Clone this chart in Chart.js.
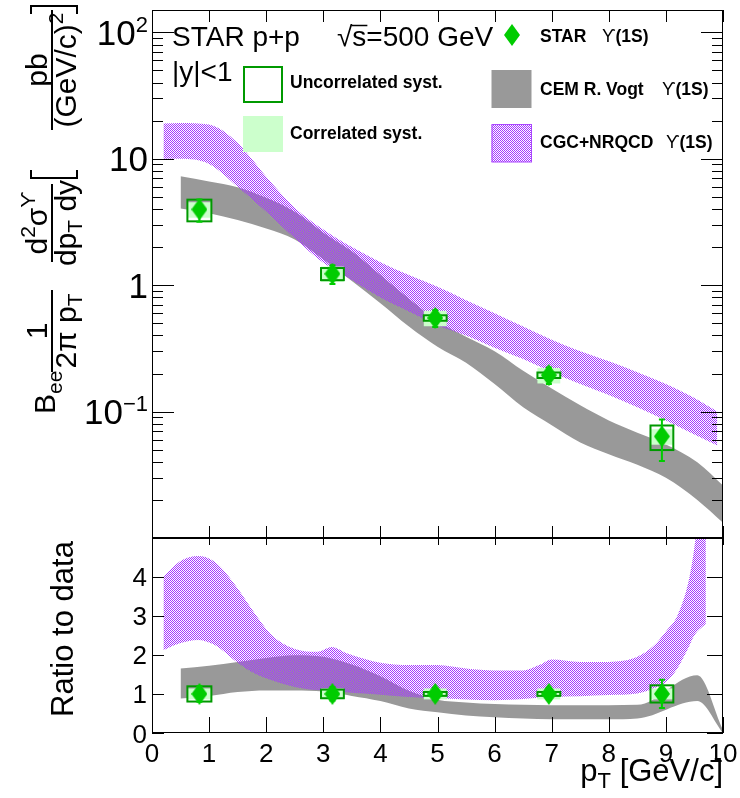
<!DOCTYPE html>
<html>
<head>
<meta charset="utf-8">
<title>Upsilon(1S) cross section, STAR p+p 500 GeV</title>
<script src="https://cdn.jsdelivr.net/npm/chart.js@4.4.1/dist/chart.umd.min.js"></script>
<style>
  html, body { margin: 0; padding: 0; background: #fff; }
  #wrap { position: relative; width: 740px; height: 798px; }
  #wrap canvas { position: absolute; left: 0; top: 0; }
</style>
</head>
<body>
<div id="wrap">
  <canvas id="xsec" width="740" height="798"></canvas>
  <canvas id="ratio" width="740" height="798"></canvas>
</div>
<script>
// STAR points
const starPt = [0.83, 3.16, 4.96, 6.95, 8.93];
const starXsec = [3.97, 1.23, 0.55, 0.194, 0.0636];
const starRatio = [1, 1, 1, 1, 1];
const starBinHalf = [0.21, 0.2, 0.2, 0.2, 0.2];
const starStatRel = [0.2, 0.17, 0.15, 0.15, 0.36];
const starUncorrRel = [0.195, 0.11, 0.05, 0.05, 0.22];
const starCorrRel = [0.14, 0.14, 0.14, 0.14, 0.14];

// CEM (R. Vogt) band
const cemPt   = [0.5, 1.0, 1.5, 2.0, 2.5, 3.0, 3.5, 4.0, 4.5, 5.0, 5.5, 6.0, 6.5, 7.0, 7.5, 8.0, 8.5, 9.0, 9.55, 10.0];
const cemLow  = [4.04, 3.7, 3.27, 2.8, 2.3, 1.6, 1.08, 0.72, 0.47, 0.325, 0.243, 0.165, 0.108, 0.078, 0.057, 0.046, 0.038, 0.03, 0.02, 0.0132];
const cemHigh = [7.26, 6.6, 5.95, 4.9, 3.8, 2.6, 1.85, 1.2, 0.78, 0.52, 0.39, 0.3, 0.21, 0.152, 0.112, 0.085, 0.068, 0.055, 0.0397, 0.026];

// CGC+NRQCD band
const cgcPt   = [0.2, 0.5, 1.0, 1.5, 2.0, 2.5, 3.0, 3.5, 4.0, 4.5, 5.0, 5.5, 6.0, 6.5, 7.0, 7.5, 8.0, 8.5, 9.0, 9.5, 9.9];
const cgcHigh = [19, 19.2, 18.6, 13.3, 7.2, 4.1, 2.75, 2.0, 1.52, 1.2, 0.97, 0.76, 0.6, 0.47, 0.37, 0.3, 0.25, 0.205, 0.165, 0.128, 0.1];
const cgcLow  = [10, 10, 9.1, 6.0, 3.8, 2.35, 1.5, 1.1, 0.8, 0.62, 0.48, 0.4, 0.32, 0.26, 0.205, 0.165, 0.135, 0.108, 0.085, 0.066, 0.054];

// ratio to data
const cemRatioPt   = [0.5, 1.0, 1.5, 2.0, 2.5, 3.0, 3.5, 4.0, 4.5, 5.0, 5.5, 6.0, 6.5, 7.0, 7.5, 8.0, 8.5, 9.55, 10.0];
const cemRatioHigh = [1.65, 1.72, 1.82, 1.92, 1.99, 1.95, 1.75, 1.45, 1.08, 0.85, 0.78, 0.74, 0.72, 0.71, 0.71, 0.71, 0.72, 1.48, 0.08];
const cemRatioLow  = [0.88, 0.95, 1.05, 1.09, 1.09, 1.06, 0.95, 0.82, 0.63, 0.53, 0.45, 0.4, 0.37, 0.35, 0.35, 0.35, 0.37, 0.82, 0.0];

const cgcRatioPt   = [0.2, 0.5, 0.8, 1.1, 1.5, 1.8, 2.1, 2.5, 2.9, 3.15, 3.4, 4.0, 4.5, 5.0, 5.5, 6.0, 6.5, 6.8, 7.0, 7.5, 8.0, 8.5, 8.8, 9.0, 9.2, 9.4, 9.5, 9.7];
const cgcRatioHigh = [4.0, 4.4, 4.53, 4.38, 3.7, 3.06, 2.5, 2.15, 2.08, 2.2, 2.05, 1.8, 1.74, 1.74, 1.65, 1.6, 1.6, 1.75, 1.88, 1.82, 1.82, 1.95, 2.25, 2.6, 3.0, 3.9, 4.77, 7.5];
const cgcRatioLow  = [2.12, 2.3, 2.38, 2.25, 1.8, 1.52, 1.35, 1.18, 1.1, 1.09, 1.04, 0.98, 0.92, 0.89, 0.86, 0.84, 0.87, 0.9, 0.92, 0.94, 0.97, 1.01, 1.15, 1.3, 1.65, 2.2, 2.5, 2.8];

// axes
const xTicks = [0, 1, 2, 3, 4, 5, 6, 7, 8, 9, 10];
const ratioTicks = [0, 1, 2, 3, 4];
const logTickValues = [0.1, 1, 10, 100];
const logTickBase = ['10', '1', '10', '10'];
const logTickExp = ['\u22121', '', '', '2'];

const FONT = '"Liberation Sans", "DejaVu Sans", Arial, sans-serif';
const GREEN = '#00cc00', BOX_GREEN = '#009900', LIGHT_GREEN = '#ccffcc', GREY = '#999999';

function font(size, bold) { return (bold ? 'bold ' : '') + size + 'px ' + FONT; }

// pieces: [text, size, dy, bold]
function runWidth(ctx, pieces) {
  let w = 0;
  for (const p of pieces) { ctx.font = font(p[1], p[3]); w += ctx.measureText(p[0]).width; }
  return w;
}
function drawRun(ctx, pieces, x, y) {
  for (const p of pieces) {
    ctx.font = font(p[1], p[3]);
    ctx.fillText(p[0], x, y + p[2]);
    x += ctx.measureText(p[0]).width;
  }
  return x;
}

function diamondMarker(w, h, color) {
  const c = document.createElement('canvas');
  c.width = w; c.height = h;
  const g = c.getContext('2d');
  g.fillStyle = color;
  g.beginPath();
  g.moveTo(w / 2, 0); g.lineTo(w, h / 2); g.lineTo(w / 2, h); g.lineTo(0, h / 2);
  g.closePath(); g.fill();
  return c;
}

function purplePattern() {
  const c = document.createElement('canvas');
  c.width = 2; c.height = 2;
  const g = c.getContext('2d');
  g.fillStyle = 'rgb(165,55,255)';
  g.fillRect(0, 0, 1, 1);
  g.fillRect(1, 1, 1, 1);
  return g.createPattern(c, 'repeat');
}

const diamond = diamondMarker(16, 22, GREEN);
const purple = purplePattern();

function edge(xs, ys) { return xs.map((x, i) => ({ x, y: ys[i] })); }

const edgeStyle = {
  showLine: true, borderWidth: 0, borderColor: 'rgba(0,0,0,0)',
  pointRadius: 0, cubicInterpolationMode: 'monotone'
};

function starDataset(values) {
  return {
    data: edge(starPt, values), showLine: false,
    pointStyle: diamond, pointRadius: 10, borderWidth: 0
  };
}

// boxes and error bars under the STAR markers
const starMarks = {
  id: 'starMarks',
  beforeDatasetDraw(chart, args) {
    if (args.index !== 0) return;
    const { ctx, chartArea: a, scales } = chart;
    const xs = scales.x, ys = scales.y;
    const pts = chart.data.datasets[0].data;
    ctx.save();
    ctx.beginPath(); ctx.rect(a.left, a.top, a.right - a.left, a.bottom - a.top); ctx.clip();
    pts.forEach((p, i) => {
      const x0 = xs.getPixelForValue(p.x - starBinHalf[i]);
      const x1 = xs.getPixelForValue(p.x + starBinHalf[i]);
      const c0 = ys.getPixelForValue(p.y * (1 + starCorrRel[i]));
      const c1 = ys.getPixelForValue(p.y * (1 - starCorrRel[i]));
      ctx.fillStyle = LIGHT_GREEN;
      ctx.fillRect(x0, c0, x1 - x0, c1 - c0);
      const u0 = ys.getPixelForValue(p.y * (1 + starUncorrRel[i]));
      const u1 = ys.getPixelForValue(p.y * (1 - starUncorrRel[i]));
      ctx.strokeStyle = BOX_GREEN; ctx.lineWidth = 2;
      ctx.strokeRect(x0, u0, x1 - x0, u1 - u0);
      const px = xs.getPixelForValue(p.x);
      const e0 = ys.getPixelForValue(p.y * (1 + starStatRel[i]));
      const e1 = ys.getPixelForValue(p.y * (1 - starStatRel[i]));
      ctx.strokeStyle = GREEN; ctx.lineWidth = 2;
      ctx.beginPath();
      ctx.moveTo(px, e0); ctx.lineTo(px, e1);
      ctx.moveTo(px - 3, e0); ctx.lineTo(px + 3, e0);
      ctx.moveTo(px - 3, e1); ctx.lineTo(px + 3, e1);
      ctx.stroke();
    });
    ctx.restore();
  }
};

function bracket(ctx, u, dir, v0, v1) {
  ctx.beginPath();
  ctx.moveTo(u + dir * 8, v0); ctx.lineTo(u, v0); ctx.lineTo(u, v1); ctx.lineTo(u + dir * 8, v1);
  ctx.stroke();
}

function fraction(ctx, u0, u1, num, den) {
  const uc = (u0 + u1) / 2;
  ctx.beginPath(); ctx.moveTo(u0, 0); ctx.lineTo(u1, 0); ctx.stroke();
  drawRun(ctx, num, uc - runWidth(ctx, num) / 2, -5);
  drawRun(ctx, den, uc - runWidth(ctx, den) / 2, 24);
}

const topDecor = {
  id: 'topDecor',
  afterDraw(chart) {
    const { ctx, chartArea: a, scales } = chart;
    const xs = scales.x, ys = scales.y;
    ctx.save();
    ctx.strokeStyle = '#000'; ctx.fillStyle = '#000'; ctx.lineWidth = 1;
    ctx.strokeRect(a.left + 0.5, a.top + 0.5, a.right - a.left - 1, a.bottom - a.top - 1);
    ctx.beginPath();
    for (const v of xTicks) {
      const px = Math.round(xs.getPixelForValue(v)) + 0.5;
      ctx.moveTo(px, a.bottom); ctx.lineTo(px, a.bottom - 12);
      ctx.moveTo(px, a.top); ctx.lineTo(px, a.top + 12);
    }
    for (let d = 0.01; d < 200; d *= 10) {
      for (let m = 1; m <= 9; m++) {
        const v = m * d;
        if (v < ys.min || v > ys.max) continue;
        const py = Math.round(ys.getPixelForValue(v)) + 0.5;
        const len = m === 1 ? 22 : 11;
        ctx.moveTo(a.left, py); ctx.lineTo(a.left + len, py);
        ctx.moveTo(a.right, py); ctx.lineTo(a.right - len, py);
      }
    }
    ctx.stroke();

    // decade labels
    ctx.textAlign = 'left'; ctx.textBaseline = 'alphabetic';
    logTickValues.forEach((v, i) => {
      const py = ys.getPixelForValue(v);
      const pieces = [[logTickBase[i], 35, 0], [logTickExp[i], 22, -13]];
      drawRun(ctx, pieces, 148 - runWidth(ctx, pieces), py + 12.5);
    });

    // y title
    ctx.save();
    ctx.translate(52, 538);
    ctx.rotate(-Math.PI / 2);
    ctx.lineWidth = 2;
    const F = 30, S = 21;
    drawRun(ctx, [['B', F, 0], ['ee', S, 7]], 124, 3);
    fraction(ctx, 166, 248, [['1', F, 0]], [['2\u03c0 p', F, 0], ['T', S, 6]]);
    fraction(ctx, 276, 354,
      [['d', F, 0], ['2', S, -12], ['\u03c3', F, 0], ['\u03d2', S, -12]],
      [['dp', F, 0], ['T', S, 6], [' dy', F, 0]]);
    bracket(ctx, 360, 1, -21, 25);
    fraction(ctx, 408, 528, [['pb', F, 0]], [['(GeV/c)', F, 0], ['2', S, -13]]);
    bracket(ctx, 532, -1, -21, 25);
    ctx.restore();

    // header text
    ctx.font = font(28);
    ctx.fillText('STAR p+p', 172, 46);
    let x = 337;
    ctx.fillText('\u221a', x, 46);
    x += ctx.measureText('\u221a').width;
    const sw = ctx.measureText('s').width;
    ctx.fillText('s', x, 46);
    ctx.lineWidth = 1.5;
    ctx.beginPath(); ctx.moveTo(x - 1, 25.5); ctx.lineTo(x + sw + 1, 25.5); ctx.stroke();
    ctx.fillText('=500 GeV', x + sw, 46);
    ctx.fillText('|y|<1', 172, 81);

    // legend
    ctx.drawImage(diamond, 504, 24);
    drawRun(ctx, [['STAR', 17.5, 0, true]], 540, 42);
    drawRun(ctx, [['\u03d2', 17.5, 0], ['(1S)', 17.5, 0, true]], 602, 42);

    ctx.strokeStyle = BOX_GREEN; ctx.lineWidth = 2;
    ctx.strokeRect(244, 67, 38, 35);
    drawRun(ctx, [['Uncorrelated syst.', 17.5, 0, true]], 290, 88);
    ctx.fillStyle = LIGHT_GREEN;
    ctx.fillRect(243, 116, 40, 36);
    ctx.fillStyle = '#000';
    drawRun(ctx, [['Correlated syst.', 17.5, 0, true]], 290, 139);

    ctx.fillStyle = GREY;
    ctx.fillRect(491.5, 70, 40, 38);
    ctx.fillStyle = '#000';
    drawRun(ctx, [['CEM R. Vogt', 17.5, 0, true]], 540, 95);
    drawRun(ctx, [['\u03d2', 17.5, 0], ['(1S)', 17.5, 0, true]], 662, 95);

    ctx.fillStyle = purple;
    ctx.fillRect(491.5, 124, 40.5, 38);
    ctx.strokeStyle = 'rgb(170,70,255)'; ctx.lineWidth = 1;
    ctx.strokeRect(492, 124.5, 39.5, 37.5);
    ctx.fillStyle = '#000';
    drawRun(ctx, [['CGC+NRQCD', 17.5, 0, true]], 540, 148);
    drawRun(ctx, [['\u03d2', 17.5, 0], ['(1S)', 17.5, 0, true]], 666, 148);
    ctx.restore();
  }
};

const ratioDecor = {
  id: 'ratioDecor',
  afterDraw(chart) {
    const { ctx, chartArea: a, scales } = chart;
    const xs = scales.x, ys = scales.y;
    ctx.save();
    ctx.strokeStyle = '#000'; ctx.fillStyle = '#000'; ctx.lineWidth = 1;
    ctx.strokeRect(a.left + 0.5, a.top + 0.5, a.right - a.left - 1, a.bottom - a.top - 1);
    ctx.beginPath();
    for (const v of xTicks) {
      const px = Math.round(xs.getPixelForValue(v)) + 0.5;
      ctx.moveTo(px, a.bottom); ctx.lineTo(px, a.bottom - 16);
      ctx.moveTo(px, a.top); ctx.lineTo(px, a.top + 7);
    }
    for (const v of ratioTicks) {
      const py = Math.round(ys.getPixelForValue(v)) + 0.5;
      ctx.moveTo(a.left, py); ctx.lineTo(a.left + 12, py);
      ctx.moveTo(a.right, py); ctx.lineTo(a.right - 16, py);
    }
    ctx.stroke();

    ctx.font = font(26);
    ctx.textAlign = 'right';
    for (const v of ratioTicks) ctx.fillText(String(v), 147, ys.getPixelForValue(v) + 9.5);
    ctx.textAlign = 'center';
    for (const v of xTicks) ctx.fillText(String(v), xs.getPixelForValue(v), 762);

    ctx.textAlign = 'left';
    const xt = [['p', 31, 0], ['T', 22, 7], [' [GeV/c]', 31, 0]];
    drawRun(ctx, xt, a.right - runWidth(ctx, xt), 781);

    ctx.save();
    ctx.translate(73, 629);
    ctx.rotate(-Math.PI / 2);
    ctx.textAlign = 'center';
    ctx.font = font(31);
    ctx.fillText('Ratio to data', 0, 0);
    ctx.restore();
    ctx.restore();
  }
};

const common = {
  responsive: false,
  maintainAspectRatio: false,
  animation: false,
  events: [],
  plugins: { legend: { display: false }, tooltip: { enabled: false } }
};

new Chart(document.getElementById('xsec'), {
  type: 'line',
  data: {
    datasets: [
      starDataset(starXsec),
      { data: edge(cgcPt, cgcLow), ...edgeStyle, fill: false },
      { data: edge(cgcPt, cgcHigh), ...edgeStyle, fill: 1, backgroundColor: purple },
      { data: edge(cemPt, cemLow), ...edgeStyle, fill: false },
      { data: edge(cemPt, cemHigh), ...edgeStyle, fill: 3, backgroundColor: GREY }
    ]
  },
  options: {
    ...common,
    layout: { padding: { left: 152, right: 17, top: 8, bottom: 260 } },
    scales: {
      x: { type: 'linear', min: 0, max: 10, display: false },
      y: { type: 'logarithmic', min: 0.01, max: 150, display: false }
    }
  },
  plugins: [starMarks, topDecor]
});

new Chart(document.getElementById('ratio'), {
  type: 'line',
  data: {
    datasets: [
      starDataset(starRatio),
      { data: edge(cgcRatioPt, cgcRatioLow), ...edgeStyle, fill: false },
      { data: edge(cgcRatioPt, cgcRatioHigh), ...edgeStyle, fill: 1, backgroundColor: purple },
      { data: edge(cemRatioPt, cemRatioLow), ...edgeStyle, fill: false },
      { data: edge(cemRatioPt, cemRatioHigh), ...edgeStyle, fill: 3, backgroundColor: GREY }
    ]
  },
  options: {
    ...common,
    layout: { padding: { left: 152, right: 17, top: 538, bottom: 65 } },
    scales: {
      x: { type: 'linear', min: 0, max: 10, display: false },
      y: { type: 'linear', min: 0, max: 4.99, display: false }
    }
  },
  plugins: [starMarks, ratioDecor]
});
</script>
</body>
</html>
